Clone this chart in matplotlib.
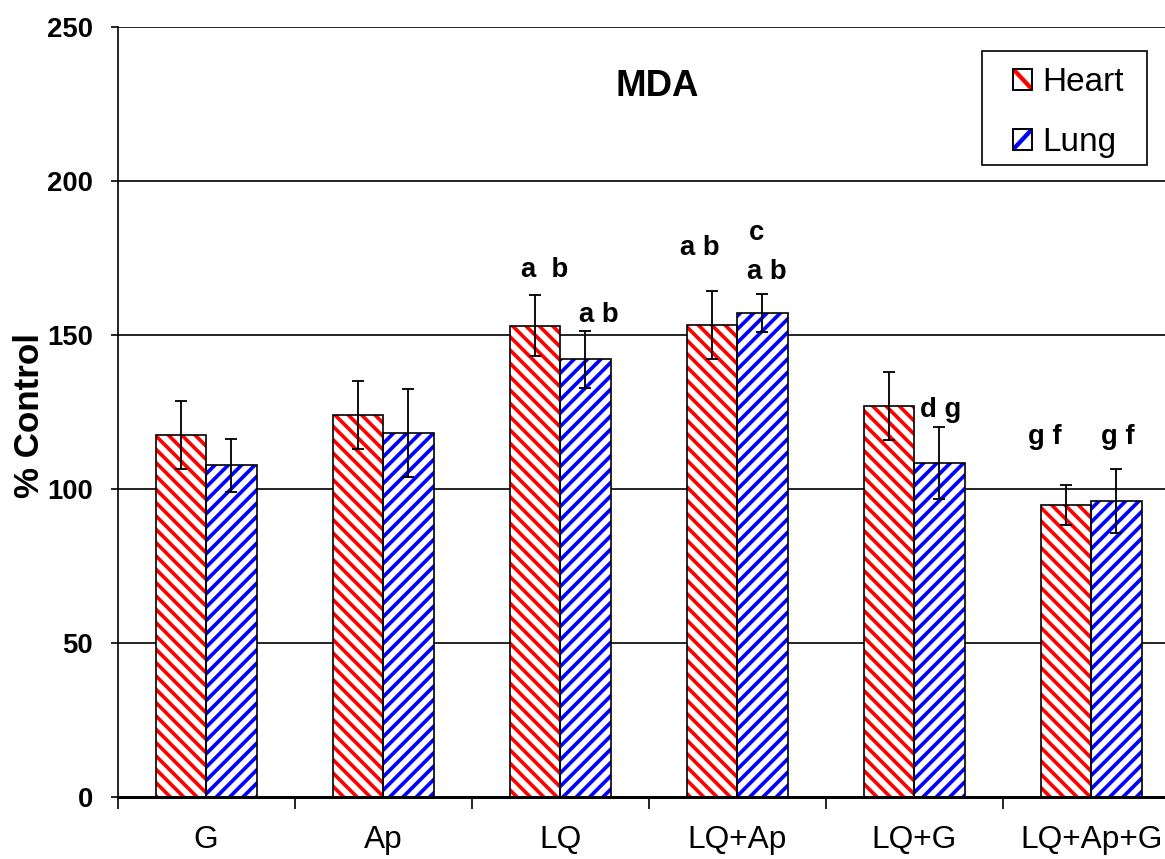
import matplotlib
matplotlib.use("Agg")
import matplotlib.pyplot as plt
from matplotlib.legend_handler import HandlerBase
from matplotlib.lines import Line2D
from matplotlib.patches import Patch, Rectangle
import numpy as np

plt.rcParams["font.family"] = ["Liberation Sans", "DejaVu Sans"]
plt.rcParams["hatch.linewidth"] = 2.2

categories = ["G", "Ap", "LQ", "LQ+Ap", "LQ+G", "LQ+Ap+G"]
heart = [117.5, 124.0, 153.0, 153.2, 127.0, 94.7]
heart_err = [11.0, 11.0, 10.0, 11.0, 11.0, 6.4]
lung = [107.6, 118.0, 142.1, 157.0, 108.3, 96.1]
lung_err = [8.7, 14.3, 9.2, 6.2, 11.7, 10.4]
yticks = [0, 50, 100, 150, 200, 250]

# significance letters: (category, x shift from category centre, y, text)
letters = [
    (2, -0.09, 171.0, "a  b"),
    (2, 0.22, 156.5, "a b"),
    (3, -0.21, 178.2, "a b"),
    (3, 0.11, 183.0, "c"),
    (3, 0.17, 170.4, "a b"),
    (4, 0.15, 125.6, "d g"),
    (5, -0.26, 116.9, "g f"),
    (5, 0.15, 116.9, "g f"),
]


class StripeBox(HandlerBase):
    # small white box with one diagonal stripe, like the Excel legend keys
    def create_artists(self, legend, orig, xd, yd, w, h, fontsize, trans):
        x0, y0 = -xd, -yd
        col = orig.get_edgecolor()
        if "\\" in orig.get_hatch():
            xs, ys = [x0, x0 + w], [y0 + h, y0]
        else:
            xs, ys = [x0, x0 + w], [y0, y0 + h]
        box = Rectangle((x0, y0), w, h, facecolor="white", edgecolor="black",
                        linewidth=1.0, transform=trans)
        stripe = Line2D(xs, ys, color=col, linewidth=2.6, transform=trans,
                        solid_capstyle="butt")
        stripe.set_clip_path(box)
        edge = Rectangle((x0, y0), w, h, fill=False, edgecolor="black",
                         linewidth=1.0, transform=trans)
        return [box, stripe, edge]


W, H, DPI = 1165, 859, 120
fig = plt.figure(figsize=(W / DPI, H / DPI), dpi=DPI)
ax = fig.add_axes([117.6 / W, (H - 797) / H, 1062 / W, 770.3 / H])

x = np.arange(len(categories))
bw = 1 / 3.5

series = [
    (x - bw / 2, heart, heart_err, "red", "\\\\\\", "Heart"),
    (x + bw / 2, lung, lung_err, "blue", "///", "Lung"),
]
handles = []
for pos, vals, err, col, hatch, name in series:
    ax.bar(pos, vals, bw, color="white", edgecolor=col, hatch=hatch,
           linewidth=0, zorder=2)
    ax.bar(pos, vals, bw, fill=False, edgecolor="black", linewidth=1.0,
           zorder=3)
    ax.errorbar(pos, vals, yerr=err, fmt="none", ecolor="black",
                elinewidth=1.1, capsize=3.6, capthick=1.1, zorder=4)
    handles.append(Patch(facecolor="white", edgecolor=col, hatch=hatch))

for i, dx, y, txt in letters:
    ax.text(x[i] + dx, y, txt, ha="center", va="center", fontsize=16.5,
            fontweight="bold")

ax.set_xlim(-0.5, len(categories) - 0.5)
ax.set_ylim(0, 250)
ax.set_yticks(yticks)
ax.yaxis.grid(True, color="black", linewidth=1.0)
ax.set_axisbelow(True)

ax.set_xticks(np.arange(len(categories)) - 0.5)
ax.set_xticklabels([])
ax.set_xticks(x, minor=True)
ax.set_xticklabels(categories, minor=True, fontsize=19)
ax.tick_params(axis="x", which="major", direction="out", length=7, width=1.0)
ax.tick_params(axis="x", which="minor", length=0, pad=17)
ax.tick_params(axis="y", direction="out", length=4.2, width=1.0, pad=10.5,
               labelsize=16.5)
for t in ax.get_yticklabels():
    t.set_fontweight("bold")

for s in ["top", "right"]:
    ax.spines[s].set_visible(False)
ax.spines["left"].set_linewidth(1.0)
ax.spines["bottom"].set_linewidth(1.8)

ax.set_ylabel("% Control", fontsize=21, fontweight="bold")
ax.yaxis.label.set_va("center")
ax.yaxis.set_label_coords(-0.0825, 0.495)

ax.text(0.508, 0.923, "MDA", transform=ax.transAxes, ha="center", va="center",
        fontsize=22, fontweight="bold")

# legend box drawn separately so its padding can follow the original
fig.patches.append(Rectangle((982 / W, 1 - 165 / H), 165 / W, 114.3 / H,
                             transform=fig.transFigure, fill=False,
                             edgecolor="black", linewidth=1.0, zorder=5))
leg = ax.legend(handles, ["Heart", "Lung"],
                handler_map={Patch: StripeBox()},
                loc="upper left", bbox_to_anchor=(1013 / W, 1 - 67 / H),
                bbox_transform=fig.transFigure, fontsize=20,
                handlelength=0.58, handleheight=0.58, handletextpad=0.3,
                labelspacing=0.87, borderpad=0, borderaxespad=0,
                frameon=False)

fig.savefig("out.png", dpi=DPI, facecolor="white")
